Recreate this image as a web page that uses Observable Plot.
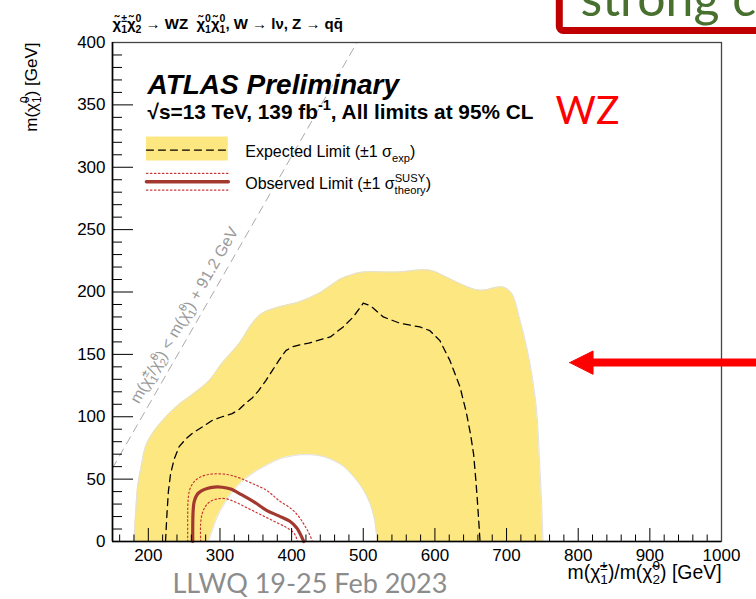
<!DOCTYPE html>
<html><head><meta charset="utf-8">
<script src="https://cdn.jsdelivr.net/npm/d3@7"></script>
<script src="https://cdn.jsdelivr.net/npm/@observablehq/plot@0.6"></script>
<style>html,body{margin:0;padding:0;background:#fff;overflow:hidden}</style>
</head><body>
<div id="chart"></div>
<script>
// ---- data (GeV) ----
const bandUpperX = [180,182,185,190,196,205,220,243,262,285,303,327,345,359,382,410,438,454,470,482,500,547,593,616,640,663,695,707,719,732,742,746,749,751];
const bandUpperY = [0,20,44,60,76,86,97,110,118,129,143,159,175,183,188,192,199,205,211,213.5,216,216,217.5,212,205.5,201.4,204,199,177,145,105,65,30,0];
const bandLowerX = [284,290,296,306,319,335,352,368,384,400,412,428,445,460,473,485,496,506,512,516,518,519];
const bandLowerY = [0,10,19.5,30,41,50,57,62,66.4,68.5,69.5,69.5,68,64.5,60,53,45,35,26,17,8,0];
const expX = [224,226,228,231,236,243,252,262,276,289,303,317,327,336,345,354,364,373,382,392,401,410,424,438,454,472,486,500,510,528,551,579,593,607,621,635,644,650,654,657,659,661,663];
const expY = [0,22,40,54,66,76,82,87,92,97,100,102.5,106,111,115,121,129,137,145,153,156,157.5,159,161.5,164,172,180,191,189,180,175,172,169,161,145,124,103,85,70,50,35,18,0];
const obsX = [262,262,262.5,264,268,274,282,292,303,315,330,348,365,382,398,407,412,417];
const obsY = [0,12,24,32,37.5,40.5,42.5,43.6,43.5,42,37.5,31.5,25,20.5,16,11,6,0];
const obsUpX = [255,255,255.5,258,264,272,282,296,312,327,345,365,382,400,410,418,424,429];
const obsUpY = [0,20,33,42,48,51.5,53.5,54.3,53.5,51,46.5,41,33,26,20,13,7,0];
const obsDnX = [273,273,275,279,285,295,308,322,336,350,364,378,392,402,406,408];
const obsDnY = [0,14,22,27.5,31.5,34,34.3,31.5,27.5,23.5,19.5,15.5,11.5,7.5,4,0];
const kinX = [150, 491.2];
const kinY = [58.8, 400];
const xTicks = [200,300,400,500,600,700,800,900,1000];
const yTicks = [0,50,100,150,200,250,300,350,400];
const xMinor = d3.range(160, 1000, 20).filter(v => v % 100 !== 0);
const yMinor = d3.range(10, 400, 10).filter(v => v % 50 !== 0);

// ---- layout ----
const W = 756, H = 599, mL = 112, mT = 42, mR = 35, mB = 58;
const fw = W - mL - mR, fh = H - mT - mB;
const ROOT = '"Liberation Sans", Arial, Helvetica, sans-serif';
const SLIDE = 'Lato, "Open Sans", sans-serif';
const YEL = "#fde781";
const zip = (xs, ys) => xs.map((x, i) => ({x, y: ys[i]}));

const bandUpper = zip(bandUpperX, bandUpperY);
const bandLower = zip(bandLowerX, bandLowerY);
const expected = zip(expX, expY);
const observed = zip(obsX, obsY);
const obsUp = zip(obsUpX, obsUpY);
const obsDn = zip(obsDnX, obsDnY);
const kin = zip(kinX, kinY);

const T = (s, o) => Plot.text([s], {text: d => d, fontFamily: ROOT, lineAnchor: "bottom", textAnchor: "start", ...o});

const chart = Plot.plot({
  width: W, height: H,
  marginLeft: mL, marginTop: mT, marginRight: mR, marginBottom: mB,
  style: {fontFamily: ROOT, fontSize: "17px", background: "white", color: "black"},
  x: {domain: [150, 1000], ticks: xTicks, tickSize: 0, tickPadding: 7, tickFormat: d3.format("d"), label: null},
  y: {domain: [0, 400], ticks: yTicks, tickSize: 0, tickPadding: 7, tickFormat: d3.format("d"), label: null},
  marks: [
    // expected ±1σ band
    Plot.areaY(bandUpper, {x: "x", y: "y", fill: YEL, curve: "catmull-rom"}),
    Plot.line(bandUpper, {x: "x", y: "y", stroke: "#e0e0e0", strokeWidth: 1, curve: "catmull-rom"}),
    Plot.areaY(bandLower, {x: "x", y: "y", fill: "white", curve: "catmull-rom"}),
    Plot.line(bandLower, {x: "x", y: "y", stroke: "#e0e0e0", strokeWidth: 1, curve: "catmull-rom"}),
    // kinematic limit
    Plot.line(kin, {x: "x", y: "y", stroke: "#aaaaaa", strokeWidth: 1, strokeDasharray: "8,6"}),
    T("m(χ̃{±|1}/χ̃{0|2}) < m(χ̃{0|1}) + 91.2 GeV", {x: 250.3, y: 181.4, rotate: -60, textAnchor: "middle", lineAnchor: "middle", fontSize: 16, fill: "#9a9a9a"}),
    // expected & observed limits
    Plot.line(expected, {x: "x", y: "y", stroke: "black", strokeWidth: 1.3, strokeDasharray: "7,5"}),
    Plot.line(obsUp, {x: "x", y: "y", stroke: "#cc3535", strokeWidth: 1.2, strokeDasharray: "1.5,2.5", curve: "catmull-rom"}),
    Plot.line(obsDn, {x: "x", y: "y", stroke: "#cc3535", strokeWidth: 1.2, strokeDasharray: "1.5,2.5", curve: "catmull-rom"}),
    Plot.line(observed, {x: "x", y: "y", stroke: "#a3392e", strokeWidth: 3.2, curve: "catmull-rom"}),
    // inward ticks
    Plot.ruleX(xTicks, {stroke: "black", strokeWidth: 1, insetTop: fh - 13}),
    Plot.ruleX(xMinor, {stroke: "black", strokeWidth: 1, insetTop: fh - 6.5}),
    Plot.ruleY(yTicks, {stroke: "black", strokeWidth: 1, insetRight: fw - 21}),
    Plot.ruleY(yMinor, {stroke: "black", strokeWidth: 1, insetRight: fw - 10}),
    // frame
    Plot.frame({stroke: "#444", strokeWidth: 1.3}),
    Plot.ruleX([150], {stroke: "black", strokeWidth: 1.6}),
    Plot.ruleY([0], {stroke: "black", strokeWidth: 1.6}),
    // legend
    Plot.rect([0], {x1: 197.4, x2: 311.6, y1: 305, y2: 324.2, fill: YEL}),
    Plot.line([[197.4, 313.8], [311.6, 313.8]], {stroke: "black", strokeWidth: 1.3, strokeDasharray: "7,5"}),
    Plot.line([[197.4, 295.1], [311.6, 295.1]], {stroke: "#cc3535", strokeWidth: 1.2, strokeDasharray: "1.5,2.5"}),
    Plot.line([[197.4, 281.7], [311.6, 281.7]], {stroke: "#cc3535", strokeWidth: 1.2, strokeDasharray: "1.5,2.5"}),
    Plot.line([[197.4, 288.4], [311.6, 288.4]], {stroke: "#a3392e", strokeWidth: 3.6}),
    T("Expected Limit (±1 σ_{exp})", {x: 335.3, y: 308.2, fontSize: 16}),
    T("Observed Limit (±1 σ{SUSY|theory})", {x: 335.3, y: 282.5, fontSize: 16}),
    // labels
    T("ATLAS Preliminary", {frameAnchor: "top-left", dx: 35, dy: 51, fontSize: 28, fontWeight: "bold", fontStyle: "italic"}),
    T("√s=13 TeV, 139 fb^{-1}, All limits at 95% CL", {frameAnchor: "top-left", dx: 35, dy: 76, fontSize: 20.8, fontWeight: "bold"}),
    T("χ̃{±|1}χ̃{0|2} → WZ  χ̃{0|1}χ̃{0|1}, W → lν, Z → qq̄", {frameAnchor: "top-left", dx: 0, dy: -14, fontSize: 15, fontWeight: "bold"}),
    T("m(χ̃{±|1})/m(χ̃{0|2}) [GeV]", {frameAnchor: "bottom-right", dx: 0, dy: 37, textAnchor: "end", fontSize: 19.4}),
    T("m(χ̃{0|1}) [GeV]", {frameAnchor: "top-left", dx: -76, dy: 0, rotate: -90, textAnchor: "end", fontSize: 17}),
    // slide decorations
    T("WZ", {frameAnchor: "top-left", dx: 443, dy: 81, fontSize: 39, fontFamily: SLIDE, fill: "#ff0000"}),
    T("LLWQ 19-25 Feb 2023", {frameAnchor: "bottom-left", dx: 60, dy: 51, fontSize: 27, fontFamily: SLIDE, fill: "#8c8c8c"}),
    Plot.rect([0], {x1: 774.3, x2: 1150, y1: 409.3, y2: 480, stroke: "#c00000", strokeWidth: 7, fill: "none", rx: 4}),
    T("strong co", {frameAnchor: "top-left", dx: 468, dy: -27, fontSize: 50, fontFamily: SLIDE, fill: "#48702f"}),
    Plot.line([[818, 143.4], [1070, 143.4]], {stroke: "#ff0000", strokeWidth: 8}),
    Plot.line([[788.2, 143.4], [820.7, 152.7], [820.7, 134], [788.2, 143.4]], {fill: "#ff0000", stroke: "#ff0000", strokeWidth: 1})
  ]
});
document.getElementById("chart").append(chart);
chart.querySelectorAll('g[aria-label$="tick label"]').forEach(g => g.setAttribute("font-size", 17));

// rich text: {sup|sub} stacked, ^{sup}, _{sub}
function richify(root) {
  const NS = "http://www.w3.org/2000/svg";
  const re = /\{([^|{}]*)\|([^{}]*)\}|\^\{([^{}]*)\}|_\{([^{}]*)\}/g;
  root.querySelectorAll("text").forEach(t => {
    const s = t.textContent;
    if (!/[{}]/.test(s)) return;
    const fs = parseFloat(getComputedStyle(t).fontSize) || 16;
    while (t.firstChild) t.removeChild(t.firstChild);
    let cur = 0, pend = 0, last = 0, m;
    const add = (txt, shift, scale, dx) => {
      const ts = document.createElementNS(NS, "tspan");
      ts.textContent = txt;
      if (scale !== 1) ts.setAttribute("font-size", (fs * scale).toFixed(2));
      const d = shift - cur;
      if (d) ts.setAttribute("dy", d.toFixed(2));
      const ddx = (dx || 0) + pend; pend = 0;
      if (ddx) ts.setAttribute("dx", ddx.toFixed(2));
      cur = shift; t.appendChild(ts); return ts;
    };
    re.lastIndex = 0;
    while ((m = re.exec(s))) {
      if (m.index > last) add(s.slice(last, m.index), 0, 1);
      if (m[1] !== undefined) {
        const a = add(m[1], -0.42 * fs, 0.7); const wa = a.getComputedTextLength();
        const b = add(m[2], 0.28 * fs, 0.7, -wa); const wb = b.getComputedTextLength();
        if (wa > wb) pend = wa - wb;
      } else if (m[3] !== undefined) add(m[3], -0.42 * fs, 0.7);
      else add(m[4], 0.28 * fs, 0.7);
      last = re.lastIndex;
    }
    if (last < s.length) add(s.slice(last), 0, 1);
  });
}
richify(chart);
</script>
</body></html>
